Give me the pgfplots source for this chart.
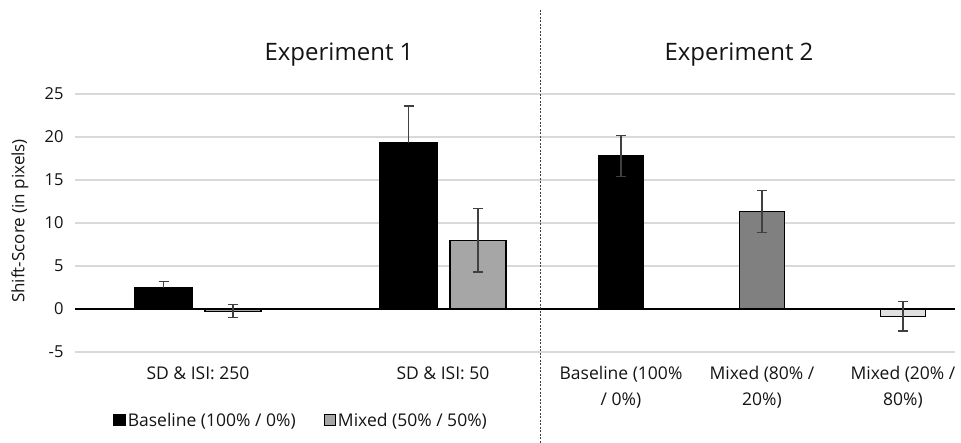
\documentclass[border=0pt]{standalone}
\usepackage{pgfplots}
\pgfplotsset{compat=1.18}
\usepackage{fontspec}
\setmainfont{Open Sans}
\definecolor{gridc}{HTML}{D9D9D9}
\definecolor{errc}{HTML}{404040}
\definecolor{mix50}{HTML}{A6A6A6}
\definecolor{mix80}{HTML}{808080}
\definecolor{mix20}{HTML}{E0E0E0}
\definecolor{txt}{HTML}{141414}
\begin{document}
\begin{tikzpicture}[x=1pt,y=1pt]
\path[use as bounding box] (0,0) rectangle (961,-443);
\begin{axis}[
  at={(75pt,-352pt)}, anchor=south west,
  scale only axis, width=880pt, height=258pt,
  xmin=75, xmax=955, ymin=-5, ymax=25,
  axis line style={draw=none},
  major tick length=0pt,
  ytick={-5,0,5,10,15,20,25},
  ymajorgrids, grid style={gridc, line width=1.6pt},
  extra y ticks={0}, extra y tick labels={},
  extra y tick style={grid style={black, line width=1.3pt}},
  xtick={198,443,621,762,903},
  xticklabels={SD \& ISI: 250, SD \& ISI: 50, {Baseline (100\%\\/ 0\%)}, {Mixed (80\% /\\20\%)}, {Mixed (20\% /\\80\%)}},
  xticklabel style={align=center, anchor=north, yshift=-11pt, text=txt, font=\fontsize{17.5}{26}\selectfont},
  yticklabel style={text=txt, xshift=-8pt, font=\fontsize{16.5}{18}\selectfont},
  /pgf/number format/assume math mode=true,
  clip=false,
  legend style={draw=none, fill=none, at={(0.257,-0.264)}, anchor=center, legend columns=2,
    font=\fontsize{17.5}{20}\selectfont, text=txt,
    /tikz/every even column/.append style={column sep=26pt}},
  legend image code/.code={\draw[#1] (0pt,-5.5pt) rectangle (11pt,5.5pt);},
  error bars/y explicit,
  error bars/error bar style={errc, line width=1.2pt},
  error bars/error mark options={errc, rotate=90, mark size=5pt, line width=1.2pt},
]
\addplot[ybar, bar shift=0, bar width=57, fill=black, draw=black, line width=1.3pt, error bars/y dir=plus]
  coordinates {(163.5,2.5) +- (0,0.7) (408.5,19.3) +- (0,4.3)};
\addplot[ybar, bar shift=0, bar width=56, fill=mix50, draw=black, line width=1.3pt, error bars/y dir=both]
  coordinates {(233,-0.25) +- (0,0.75) (478,8.0) +- (0,3.7)};
\addplot[ybar, bar shift=0, bar width=45, fill=black, draw=black, line width=1.3pt, error bars/y dir=both]
  coordinates {(621,17.8) +- (0,2.4)};
\addplot[ybar, bar shift=0, bar width=45, fill=mix80, draw=black, line width=1.3pt, error bars/y dir=both]
  coordinates {(762,11.35) +- (0,2.45)};
\addplot[ybar, bar shift=0, bar width=45, fill=mix20, draw=black, line width=1.3pt, error bars/y dir=both]
  coordinates {(903,-0.85) +- (0,1.7)};
\legend{Baseline (100\% / 0\%), Mixed (50\% / 50\%)}
\end{axis}
\draw[black!75, line width=1.5pt, dash pattern=on 2pt off 1.5pt] (540.7,-10) -- (540.7,-443);
\node[text=txt, font=\fontsize{24}{28}\selectfont] at (339,-55) {Experiment 1};
\node[text=txt, font=\fontsize{24}{28}\selectfont] at (739,-55) {Experiment 2};
\node[text=txt, rotate=90, font=\fontsize{17}{20}\selectfont] at (20,-221) {Shift-Score (in pixels)};
\end{tikzpicture}
\end{document}
